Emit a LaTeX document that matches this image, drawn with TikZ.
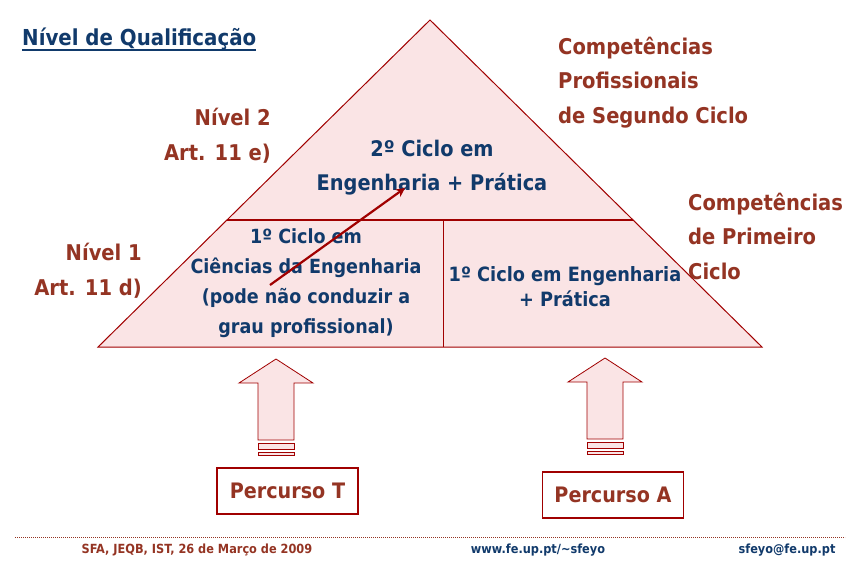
\documentclass[tikz,border=0pt]{standalone}
\usepackage{fontspec}
\setmainfont{DejaVu Sans Condensed}
\usetikzlibrary{calc,arrows.meta}
\definecolor{pyrfill}{HTML}{FAE4E5}
\definecolor{pyrline}{HTML}{A00000}
\definecolor{navy}{HTML}{113A6B}
\definecolor{rust}{HTML}{943423}

\begin{document}
\begin{tikzpicture}[x=1pt,y=-1pt,
    lbl/.style={inner sep=0pt, text=rust, font=\bfseries\fontsize{21.7}{34.5}\selectfont},
    cyc/.style={inner sep=0pt, text=navy, align=center, font=\bfseries\fontsize{19.5}{30}\selectfont},
    pathbox/.style={draw=pyrline, line width=1.2pt, minimum width=141pt, minimum height=46pt,
        text=rust, font=\bfseries\fontsize{21.3}{21.3}\selectfont},
    foot/.style={inner sep=0pt, anchor=base, font=\bfseries\fontsize{12.6}{12.6}\selectfont}]
    \useasboundingbox (0,0) rectangle (858,574);
    \coordinate (apex) at (430,20);
    \coordinate (bl) at (98,347);
    \coordinate (br) at (762,347);
    \draw[pyrline, fill=pyrfill, line width=1pt] (apex) -- (bl) -- (br) -- cycle;
    \coordinate (ml) at ($(apex)!0.612!(bl)$);
    \coordinate (mr) at ($(apex)!0.612!(br)$);
    \draw[pyrline, line width=1.6pt] (ml) -- (mr);
    \coordinate (vt) at (443,220);
    \coordinate (vb) at (443,347);
    \draw[pyrline, line width=0.8pt] (vt) -- (vb);
    \foreach \cx/\ty in {276/359, 605/358} {
        \draw[pyrline, fill=pyrfill, line width=0.8pt] (\cx,\ty) -- ++(37,24) -- ++(-19,0) -- ++(0,57)
            -- ++(-36,0) -- ++(0,-57) -- ++(-19,0) -- cycle;
        \draw[pyrline, fill=pyrfill, line width=0.8pt] (\cx-18,\ty+84) rectangle (\cx+18,\ty+90);
        \draw[pyrline, fill=pyrfill, line width=0.8pt] (\cx-18,\ty+93) rectangle (\cx+18,\ty+96);
    }
    \node[inner sep=0pt, anchor=base west, text=navy, font=\bfseries\fontsize{22}{22}\selectfont]
        (title) at (22,45) {Nível de Qualificação};
    \draw[navy, line width=1.8pt] ([yshift=-5pt]title.base west) -- ([yshift=-5pt]title.base east);
    \node[lbl, align=right, anchor=base east] (niv2) at (271,160) {Nível 2\\Art. 11 e)};
    \node[lbl, align=right, anchor=base east] (niv1) at (142,295) {Nível 1\\Art. 11 d)};
    \node[lbl, align=left, anchor=base west] (comp2) at (558,123) {Competências\\Profissionais\\de Segundo Ciclo};
    \node[lbl, align=left, anchor=base west] (comp1) at (688,279) {Competências\\de Primeiro\\Ciclo};
    \node[cyc, font=\bfseries\fontsize{21.5}{34}\selectfont, anchor=base] (ciclo2) at (432,190) {2º Ciclo em\\Engenharia + Prática};
    \node[cyc, anchor=base] (ciclo1t) at (306,333) {1º Ciclo em\\Ciências da Engenharia\\(pode não conduzir a\\grau profissional)};
    \node[cyc, font=\bfseries\fontsize{19.7}{25}\selectfont, anchor=base] (ciclo1a) at (565,306) {1º Ciclo em Engenharia\\+ Prática};
    \coordinate (from) at (270,285);
    \coordinate (to) at (405,188);
    \draw[pyrline, line width=2.2pt, -{Stealth[length=9pt,width=9pt]}] (from) -- (to);
    \node[pathbox] (percT) at (287.5,491) {Percurso T};
    \node[pathbox] (percA) at (613,495) {Percurso A};
    \coordinate (dl) at (15,537);
    \coordinate (dr) at (845,537);
    \draw[rust, line width=0.7pt, dash pattern=on 0.7pt off 1.3pt] (dl) -- (dr);
    \node[foot, text=rust] (date) at (197,553) {SFA, JEQB, IST, 26 de Março de 2009};
    \node[foot, text=navy] (web) at (538,553) {www.fe.up.pt/\char`\~sfeyo};
    \node[foot, text=navy] (mail) at (787,553) {sfeyo@fe.up.pt};
\end{tikzpicture}
\end{document}
